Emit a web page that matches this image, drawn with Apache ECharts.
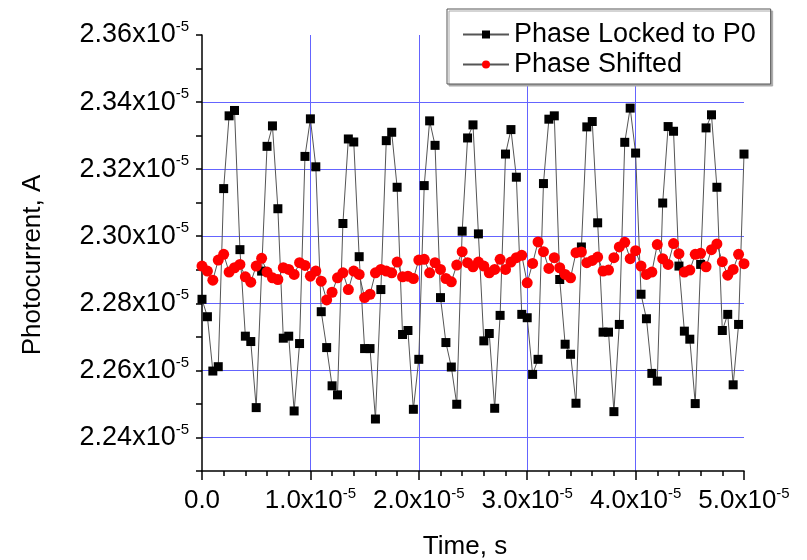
<!DOCTYPE html>
<html>
<head>
<meta charset="utf-8">
<title>Photocurrent vs time</title>
<script src="https://cdn.jsdelivr.net/npm/echarts@6/dist/echarts.min.js"></script>
<style>
  html, body { margin: 0; padding: 0; background: #fff; }
  #chart { width: 807px; height: 560px; }
</style>
</head>
<body>
<div id="chart"></div>
<script>
// time in units of 1e-5 s
var times = [
  0.00, 0.05, 0.10, 0.15, 0.20, 0.25, 0.30, 0.35, 0.40, 0.45,
  0.50, 0.55, 0.60, 0.65, 0.70, 0.75, 0.80, 0.85, 0.90, 0.95,
  1.00, 1.05, 1.10, 1.15, 1.20, 1.25, 1.30, 1.35, 1.40, 1.45,
  1.50, 1.55, 1.60, 1.65, 1.70, 1.75, 1.80, 1.85, 1.90, 1.95,
  2.00, 2.05, 2.10, 2.15, 2.20, 2.25, 2.30, 2.35, 2.40, 2.45,
  2.50, 2.55, 2.60, 2.65, 2.70, 2.75, 2.80, 2.85, 2.90, 2.95,
  3.00, 3.05, 3.10, 3.15, 3.20, 3.25, 3.30, 3.35, 3.40, 3.45,
  3.50, 3.55, 3.60, 3.65, 3.70, 3.75, 3.80, 3.85, 3.90, 3.95,
  4.00, 4.05, 4.10, 4.15, 4.20, 4.25, 4.30, 4.35, 4.40, 4.45,
  4.50, 4.55, 4.60, 4.65, 4.70, 4.75, 4.80, 4.85, 4.90, 4.95,
  5.00
]

// photocurrent in units of 1e-5 A
var lockedP0 = [
  2.2812, 2.2760, 2.2598, 2.2611, 2.3142, 2.3359, 2.3375, 2.2960, 2.2702, 2.2686,
  2.2489, 2.2896, 2.3268, 2.3329, 2.3082, 2.2696, 2.2702, 2.2479, 2.2680, 2.3238,
  2.3350, 2.3207, 2.2775, 2.2668, 2.2554, 2.2527, 2.3038, 2.3290, 2.3281, 2.2939,
  2.2665, 2.2665, 2.2455, 2.2841, 2.3285, 2.3310, 2.3146, 2.2707, 2.2719, 2.2484,
  2.2633, 2.3151, 2.3344, 2.3271, 2.2817, 2.2683, 2.2610, 2.2499, 2.3015, 2.3293,
  2.3332, 2.3007, 2.2688, 2.2710, 2.2487, 2.2764, 2.3245, 2.3318, 2.3176, 2.2767,
  2.2757, 2.2588, 2.2633, 2.3157, 2.3349, 2.3359, 2.2871, 2.2678, 2.2648, 2.2502,
  2.2968, 2.3326, 2.3342, 2.3040, 2.2714, 2.2714, 2.2477, 2.2737, 2.3280, 2.3382,
  2.3248, 2.2827, 2.2754, 2.2591, 2.2568, 2.3099, 2.3327, 2.3313, 2.2911, 2.2717,
  2.2693, 2.2501, 2.2916, 2.3323, 2.3362, 2.3146, 2.2719, 2.2767, 2.2557, 2.2737,
  2.3245
]

var shifted = [
  2.2911, 2.2896, 2.2869, 2.2929, 2.2946, 2.2893, 2.2906, 2.2916, 2.2879, 2.2863,
  2.2911, 2.2934, 2.2893, 2.2876, 2.2871, 2.2906, 2.2901, 2.2886, 2.2921, 2.2913,
  2.2881, 2.2896, 2.2866, 2.2810, 2.2833, 2.2876, 2.2891, 2.2841, 2.2896, 2.2886,
  2.2817, 2.2827, 2.2891, 2.2901, 2.2896, 2.2891, 2.2923, 2.2879, 2.2881, 2.2874,
  2.2929, 2.2931, 2.2891, 2.2921, 2.2901, 2.2874, 2.2864, 2.2914, 2.2954, 2.2921,
  2.2909, 2.2923, 2.2911, 2.2891, 2.2901, 2.2931, 2.2901, 2.2923, 2.2936, 2.2943,
  2.2861, 2.2919, 2.2983, 2.2954, 2.2904, 2.2936, 2.2906, 2.2886, 2.2876, 2.2951,
  2.2953, 2.2921, 2.2928, 2.2938, 2.2896, 2.2899, 2.2936, 2.2968, 2.2982, 2.2933,
  2.2957, 2.2911, 2.2886, 2.2893, 2.2975, 2.2933, 2.2916, 2.2978, 2.2948, 2.2893,
  2.2899, 2.2946, 2.2949, 2.2909, 2.2960, 2.2977, 2.2924, 2.2884, 2.2901, 2.2946,
  2.2918
]

var seriesNames = ['Phase Locked to P0', 'Phase Shifted']

function pairs (ys) {
  var out = []
  for (var i = 0; i < times.length; i++) {
    out.push([times[i], ys[i]])
  }
  return out
}

var font = 'Liberation Sans, Arial, Helvetica, sans-serif'
var gridBlue = '#6464ff'
function supRich (size) {
  return {
    a: { fontSize: size, fontFamily: font, color: '#000', lineHeight: size + 4 },
    b: { fontSize: 15, fontFamily: font, color: '#000', verticalAlign: 'top', lineHeight: 14 }
  }
}

var myChart = echarts.init(document.getElementById('chart'))
var option = {
  animation: false,
  backgroundColor: '#fff',
  // fixed plot box, don't let v6 shrink it to fit the names
  grid: { left: 202, right: 63, top: 35, bottom: 89, containLabel: false, outerBoundsMode: 'none' },
  legend: {
    data: seriesNames,
    orient: 'vertical',
    left: 447,
    top: 9,
    itemWidth: 46,
    itemHeight: 10,
    itemGap: 3,
    padding: [12, 15, 6, 15],
    backgroundColor: '#fff',
    borderColor: '#555',
    borderWidth: 1,
    shadowColor: '#aaa',
    shadowOffsetX: 2,
    shadowOffsetY: 2,
    textStyle: { fontSize: 27, fontFamily: font, color: '#000' }
  },
  xAxis: {
    type: 'value',
    min: 0,
    max: 5,
    interval: 1,
    name: 'Time, s',
    nameLocation: 'middle',
    nameGap: 63,
    nameTextStyle: { fontSize: 26, fontFamily: font, color: '#000', padding: [0, 16, 0, 0] },
    axisLine: { lineStyle: { color: '#000', width: 1.5 } },
    axisTick: { inside: false, length: 9, lineStyle: { color: '#000', width: 1.5 } },
    minorTick: { show: true, splitNumber: 5, length: 5, lineStyle: { color: '#000', width: 1.5 } },
    axisLabel: {
      margin: 15,
      color: '#000',
      fontSize: 26,
      fontFamily: font,
      formatter: function (v) {
        if (v === 0) return '{a|0.0}'
        return '{a|' + v.toFixed(1) + 'x10}{b|-5}'
      },
      rich: supRich(26)
    },
    splitLine: { show: true, showMinLine: false, showMaxLine: false, lineStyle: { color: gridBlue, width: 1 } }
  },
  yAxis: {
    type: 'value',
    min: 2.23,
    max: 2.36,
    interval: 0.01,
    name: 'Photocurrent, A',
    nameLocation: 'middle',
    nameGap: 156,
    nameTextStyle: { fontSize: 26, fontFamily: font, color: '#000', padding: [0, 24, 0, 0] },
    axisLine: { show: true, lineStyle: { color: '#000', width: 1.5 } },
    axisTick: { show: true, inside: false, length: 6, lineStyle: { color: '#000', width: 1.5 } },
    axisLabel: {
      margin: 13,
      color: '#000',
      fontSize: 27,
      fontFamily: font,
      formatter: function (v) {
        var k = Math.round(v * 100)
        if (k % 2 !== 0) return ''
        return '{a|' + (k / 100).toFixed(2) + 'x10}{b|-5}'
      },
      rich: supRich(27)
    },
    splitLine: {
      show: true,
      showMaxLine: false,
      // ticks run every 0.01, grid lines only on the labelled values
      lineStyle: { color: ['rgba(0,0,0,0)', gridBlue], width: 1 }
    }
  },
  series: [
    {
      name: seriesNames[0],
      type: 'line',
      data: pairs(lockedP0),
      symbol: 'rect',
      symbolSize: 9,
      showAllSymbol: true,
      itemStyle: { color: '#000' },
      lineStyle: { color: '#555', width: 1 }
    },
    {
      name: seriesNames[1],
      type: 'line',
      data: pairs(shifted),
      symbol: 'circle',
      symbolSize: 11,
      showAllSymbol: true,
      itemStyle: { color: '#ff0000' },
      lineStyle: { color: '#555', width: 1 }
    }
  ]
}
myChart.setOption(option)
</script>
</body>
</html>
